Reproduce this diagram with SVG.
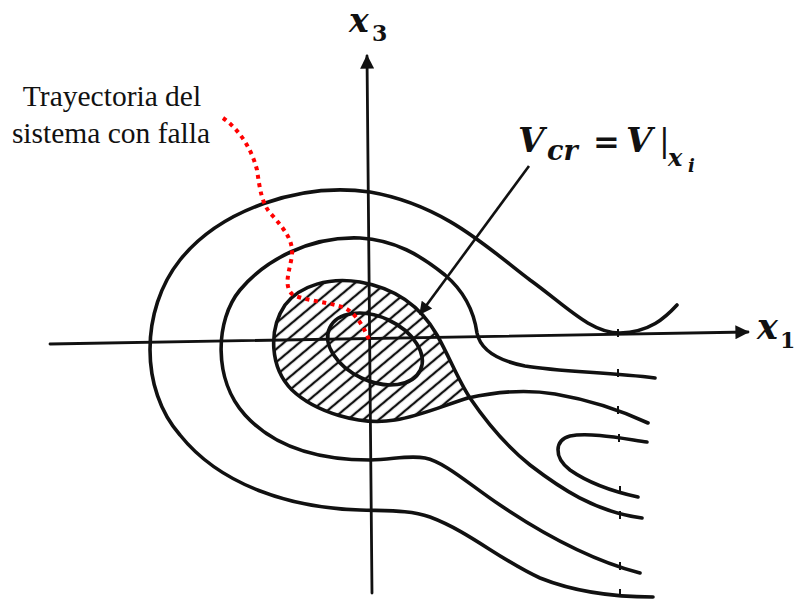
<svg xmlns="http://www.w3.org/2000/svg" width="800" height="601" viewBox="0 0 800 601">
<style>
.c{fill:none;stroke:#111;stroke-width:3.6;stroke-linecap:round;stroke-linejoin:round}
.ax{fill:none;stroke:#111;stroke-width:2.8;stroke-linecap:round}
.tk{stroke:#111;stroke-width:2}
.lbl{font-family:"Liberation Serif","Times New Roman",serif;fill:#111}
.m{font-family:"DejaVu Serif",serif;font-weight:bold;font-style:italic;fill:#111}
.mu{font-family:"DejaVu Serif",serif;font-weight:bold;fill:#111}
.bar{font-family:"DejaVu Serif",serif;fill:#111}
.traj{fill:none;stroke:#ff0000;stroke-width:4;stroke-dasharray:4 4.5}
</style>
<defs>
<pattern id="hatch" patternUnits="userSpaceOnUse" width="10" height="10" patternTransform="rotate(-40)">
<line x1="0" y1="5" x2="10" y2="5" stroke="#111" stroke-width="2.3"/>
</pattern>
<marker id="arr" viewBox="0 0 10 10" refX="9" refY="5" markerWidth="5" markerHeight="5" orient="auto" markerUnits="strokeWidth">
<path d="M0,0 L10,5 L0,10 Z" fill="#111"/>
</marker>
<marker id="arrS" viewBox="0 0 10 10" refX="9" refY="5" markerWidth="6" markerHeight="5" orient="auto" markerUnits="strokeWidth">
<path d="M0,0 L10,5 L0,10 Z" fill="#111"/>
</marker>
</defs>
<rect width="800" height="601" fill="#fff"/>

<g id="region">
<path d="M468,398 C445,405 420,416 395,420 C360,426 315,412 292,390 C270,368 268,330 285,305 C300,285 330,277 360,282 C395,288 420,305 437,335 C450,358 458,380 468,398 Z" fill="url(#hatch)"/>
<ellipse cx="375" cy="349" rx="50" ry="32" transform="rotate(25 375 349)" class="c"/>
</g>

<g id="axes">
<line x1="50" y1="344" x2="748" y2="332" class="ax" marker-end="url(#arr)"/>
<line x1="372" y1="593" x2="367" y2="56" class="ax" marker-end="url(#arr)"/>
</g>

<g id="contours">
<path class="c" d="M648,423 C620,410 590,400 555,394 C525,389 495,392 468,398 C445,405 420,416 395,420 C360,426 315,412 292,390 C270,368 268,330 285,305 C300,285 330,277 360,282 C395,288 420,305 437,335 C450,358 458,380 470,398 C485,420 505,445 530,465 C560,488 595,512 642,518"/>
<path class="c" d="M655,378 C610,372 560,372 525,366 C495,360 480,348 477,333 C474,312 465,292 445,275 C420,255 395,240 360,238 C310,236 265,260 240,290 C215,320 213,380 245,415 C275,448 320,460 370,460 C395,459 410,455 425,458 C445,462 470,485 500,505 C540,532 590,560 640,573"/>
<path class="c" d="M677,305 C665,318 650,332 620,333 C590,333 565,305 530,280 C490,250 445,205 370,192 C300,182 220,210 180,260 C140,310 140,390 180,435 C220,485 290,508 360,510 C390,511 410,510 430,517 C470,532 500,560 540,578 C580,594 620,597 653,597"/>
<path class="c" d="M647,442 C625,439 590,432 570,436 C555,440 553,457 570,470 C590,484 615,492 638,497"/>
</g>

<g id="ticks">
<line class="tk" x1="618" y1="329" x2="618" y2="337"/>
<line class="tk" x1="618" y1="369" x2="618" y2="377"/>
<line class="tk" x1="618" y1="406" x2="618" y2="414"/>
<line class="tk" x1="619" y1="434" x2="619" y2="442"/>
<line class="tk" x1="620" y1="486" x2="620" y2="494"/>
<line class="tk" x1="620" y1="511" x2="620" y2="519"/>
<line class="tk" x1="620" y1="562" x2="620" y2="570"/>
<line class="tk" x1="620" y1="589" x2="620" y2="597"/>
</g>

<g id="trajectory">
<path class="traj" d="M223,118 C240,130 252,150 257,170 C260,190 262,205 272,215 C285,230 293,240 292,255 C290,270 283,285 292,294 C300,300 330,302 345,308 C358,315 365,330 370,342"/>
</g>

<g id="leader">
<line x1="529" y1="166" x2="420" y2="314" stroke="#111" stroke-width="2.6" marker-end="url(#arrS)"/>
</g>

<g id="labels">
<text class="lbl" font-size="29.5" text-anchor="middle" x="112" y="106">Trayectoria del</text>
<text class="lbl" font-size="29.5" text-anchor="middle" x="111" y="143">sistema con falla</text>
<text class="m" font-size="33" x="349" y="32">x</text>
<text class="mu" font-size="22" x="372" y="41">3</text>
<text class="m" font-size="35" x="757" y="339">x</text>
<text class="mu" font-size="22" x="780" y="348">1</text>
<text class="m" font-size="34" x="518" y="152">V</text>
<text class="m" font-size="27" x="547" y="160">cr</text>
<text class="mu" font-size="32" x="593" y="153">=</text>
<text class="m" font-size="34" x="626" y="152">V</text>
<text class="bar" font-size="32" x="659" y="151">|</text>
<text class="m" font-size="24" x="668" y="166">x</text>
<text class="m" font-size="18" x="688" y="172">i</text>
</g>
</svg>
